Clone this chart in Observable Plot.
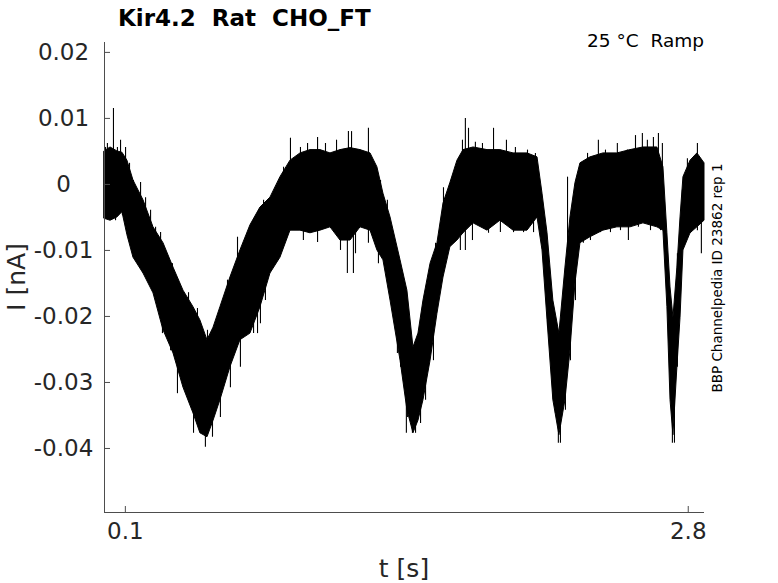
<!DOCTYPE html>
<html>
<head>
<meta charset="utf-8">
<script src="https://cdn.jsdelivr.net/npm/d3@7"></script>
<script src="https://cdn.jsdelivr.net/npm/@observablehq/plot@0.6"></script>
<style>
  html, body { margin: 0; padding: 0; background: #fff; }
  svg text { white-space: pre; }
</style>
</head>
<body>
<div id="chart"></div>
<script>
const envT = [0.000,0.029,0.062,0.086,0.110,0.139,0.187,0.235,0.283,0.331,0.379,0.427,0.460,0.494,0.523,0.556,0.604,0.652,0.700,0.748,0.796,0.844,0.892,0.940,0.988,1.036,1.084,1.132,1.180,1.228,1.276,1.309,1.338,1.372,1.420,1.453,1.482,1.506,1.530,1.564,1.597,1.626,1.659,1.693,1.722,1.770,1.837,1.899,1.962,2.029,2.077,2.101,2.125,2.153,2.182,2.211,2.235,2.259,2.283,2.331,2.393,2.460,2.523,2.585,2.652,2.681,2.700,2.715,2.729,2.748,2.763,2.777,2.811,2.844,2.878];
const envTop = [0.0050,0.0056,0.0050,0.0048,0.0036,0.0006,-0.0024,-0.0065,-0.0089,-0.0126,-0.0161,-0.0186,-0.0206,-0.0236,-0.0217,-0.0186,-0.0141,-0.0100,-0.0062,-0.0035,-0.0020,0.0011,0.0036,0.0047,0.0052,0.0052,0.0047,0.0052,0.0055,0.0052,0.0047,0.0026,-0.0014,-0.0050,-0.0115,-0.0161,-0.0247,-0.0226,-0.0176,-0.0120,-0.0089,-0.0029,0.0002,0.0036,0.0052,0.0056,0.0052,0.0052,0.0047,0.0047,0.0041,-0.0014,-0.0074,-0.0176,-0.0226,-0.0126,-0.0050,0.0002,0.0032,0.0041,0.0047,0.0047,0.0052,0.0056,0.0056,0.0026,-0.0074,-0.0156,-0.0202,-0.0126,-0.0050,0.0011,0.0036,0.0047,0.0032];
const envBottom = [-0.0052,-0.0055,-0.0050,-0.0042,-0.0077,-0.0111,-0.0135,-0.0165,-0.0221,-0.0256,-0.0308,-0.0347,-0.0377,-0.0383,-0.0358,-0.0327,-0.0277,-0.0236,-0.0226,-0.0186,-0.0135,-0.0111,-0.0070,-0.0070,-0.0074,-0.0070,-0.0065,-0.0085,-0.0085,-0.0065,-0.0070,-0.0100,-0.0115,-0.0176,-0.0267,-0.0342,-0.0377,-0.0358,-0.0327,-0.0267,-0.0196,-0.0141,-0.0095,-0.0085,-0.0074,-0.0059,-0.0070,-0.0055,-0.0070,-0.0070,-0.0050,-0.0100,-0.0206,-0.0327,-0.0380,-0.0327,-0.0252,-0.0150,-0.0089,-0.0080,-0.0070,-0.0065,-0.0065,-0.0059,-0.0065,-0.0070,-0.0186,-0.0327,-0.0380,-0.0277,-0.0202,-0.0100,-0.0074,-0.0065,-0.0055];

// Individual noise spikes sticking out of the dense band (time, extreme value)
const spikeT = [0.005,0.014,0.043,0.062,0.077,0.101,0.120,0.139,0.173,0.197,0.221,0.245,0.269,0.302,0.326,0.365,0.403,0.446,0.494,0.537,0.556,0.590,0.619,0.638,0.662,0.686,0.710,0.724,0.743,
  0.014,0.053,0.086,0.125,0.149,0.187,0.211,0.235,0.278,0.302,0.317,0.350,0.393,0.427,0.460,0.484,0.518,0.556,0.604,0.652,0.691,0.734,
  0.763,0.796,0.820,0.859,0.715,0.748,0.772,0.796,0.830,0.859,
  0.892,0.940,0.974,1.022,1.060,1.113,1.170,1.185,1.266,0.954,1.022,1.132,1.165,1.194,1.204,1.266,
  1.324,1.357,1.314,1.357,1.400,1.405,1.448,1.420,1.453,1.477,1.492,1.516,1.540,1.578,1.516,1.564,1.588,1.626,1.659,1.683,
  1.717,1.731,1.746,1.779,1.813,1.866,1.928,1.971,2.029,2.067,1.707,1.731,1.765,1.842,1.899,1.962,2.010,2.058,
  2.106,2.130,2.158,2.125,2.153,2.177,2.221,2.187,2.163,2.211,2.235,2.259,2.273,2.293,2.317,
  2.369,2.403,2.460,2.508,2.547,2.580,2.604,2.633,2.657,2.676,2.297,2.331,2.379,2.427,2.475,2.513,2.561,2.619,2.667,
  2.705,2.724,2.734,2.748,2.748,2.772,2.796,2.844,2.863,2.777,2.811,2.844,2.863];
const spikeV = [0.0056,0.0062,0.0115,0.0056,0.0067,0.0056,0.0032,0.0006,0.0003,-0.0020,-0.0039,-0.0065,-0.0073,-0.0115,-0.0120,-0.0164,-0.0164,-0.0188,-0.0221,-0.0232,-0.0191,-0.0145,-0.0135,-0.0080,-0.0097,-0.0085,-0.0059,-0.0050,-0.0039,
  -0.0050,-0.0055,-0.0047,-0.0089,-0.0111,-0.0135,-0.0148,-0.0165,-0.0226,-0.0221,-0.0252,-0.0317,-0.0308,-0.0377,-0.0377,-0.0398,-0.0383,-0.0353,-0.0308,-0.0277,-0.0226,-0.0226,
  -0.0024,-0.0020,-0.0005,0.0026,-0.0226,-0.0211,-0.0176,-0.0115,-0.0115,-0.0089,
  0.0070,0.0056,0.0062,0.0071,0.0062,0.0067,0.0080,0.0080,0.0085,-0.0085,-0.0088,-0.0100,-0.0135,-0.0135,-0.0105,-0.0089,
  0.0006,-0.0024,-0.0120,-0.0135,-0.0176,-0.0256,-0.0377,-0.0277,-0.0353,-0.0377,-0.0377,-0.0362,-0.0327,-0.0267,-0.0226,-0.0176,-0.0089,-0.0005,0.0002,0.0026,
  0.0067,0.0100,0.0085,0.0064,0.0062,0.0085,0.0067,0.0056,0.0052,0.0047,-0.0100,-0.0100,-0.0085,-0.0074,-0.0073,-0.0073,-0.0073,-0.0073,
  -0.0074,-0.0156,-0.0226,-0.0217,-0.0327,-0.0392,0.0011,-0.0392,-0.0347,-0.0342,-0.0267,-0.0176,-0.0089,0.0032,0.0047,
  0.0067,0.0052,0.0062,0.0052,0.0074,0.0077,0.0067,0.0071,0.0077,0.0062,-0.0089,-0.0085,-0.0073,-0.0073,-0.0070,-0.0085,-0.0065,-0.0070,-0.0070,
  -0.0186,-0.0392,-0.0392,-0.0277,-0.0105,-0.0009,0.0039,0.0062,0.0036,-0.0089,-0.0074,-0.0070,-0.0105];

const xTicks = [0.1, 2.8];
const xTickLabels = ["0.1", "2.8"];
const yTicks = [0.02, 0.01, 0, -0.01, -0.02, -0.03, -0.04];
const yTickLabels = ["0.02", "0.01", "0", "-0.01", "-0.02", "-0.03", "-0.04"];
const xDomain = [0, 2.878];
const yDomain = [-0.0497, 0.0215];

const title = "Kir4.2  Rat  CHO_FT";
const cornerNote = "25 °C  Ramp";
const sideNote = "BBP Channelpedia ID 23862 rep 1";
const xLabel = "t [s]";
const yLabel = "I [nA]";

const envelope = envT.map((t, i) => ({t, top: envTop[i], bottom: envBottom[i]}));
const midAt = t => {
  let i = d3.bisectRight(envT, t) - 1;
  i = Math.max(0, Math.min(envT.length - 2, i));
  const f = (t - envT[i]) / (envT[i + 1] - envT[i]);
  const m0 = (envTop[i] + envBottom[i]) / 2, m1 = (envTop[i + 1] + envBottom[i + 1]) / 2;
  return m0 + f * (m1 - m0);
};
const spikes = spikeT.map((t, i) => ({t, v: spikeV[i], base: midAt(t)}));

const textColor = "#262626";
const axisColor = "#4d4d4d";

const W = 778, H = 583;
const chart = Plot.plot({
  width: W,
  height: H,
  marginLeft: 104,
  marginRight: 74,
  marginTop: 42,
  marginBottom: 71,
  style: {fontFamily: "DejaVu Sans", background: "#fff", color: textColor},
  x: {domain: xDomain},
  y: {domain: yDomain},
  marks: [
    Plot.areaY(envelope, {x: "t", y1: "bottom", y2: "top", fill: "#000", stroke: "#000", strokeWidth: 1}),
    Plot.ruleX(spikes, {x: "t", y1: "base", y2: "v", stroke: "#000", strokeWidth: 1.1}),
    Plot.ruleX([xDomain[0]], {stroke: axisColor, strokeWidth: 1}),
    Plot.ruleY([yDomain[0]], {stroke: axisColor, strokeWidth: 1}),
    Plot.axisX({ticks: xTicks, tickFormat: (d, i) => xTickLabels[i], tickSize: -6, tickPadding: 16, stroke: axisColor, fill: textColor, fontSize: 23, label: null}),
    Plot.axisY({ticks: yTicks, tickFormat: (d, i) => yTickLabels[i], tickSize: -6, tickPadding: 47, textAnchor: "middle", stroke: axisColor, fill: textColor, fontSize: 23, label: null})
  ]
});
document.getElementById("chart").appendChild(chart);

const svg = d3.select(chart);
svg.append("text").attr("x", 118).attr("y", 26).attr("text-anchor", "start").attr("font-family", "DejaVu Sans").attr("font-weight", "bold")
  .attr("font-size", 23).attr("fill", "#000").text(title);
svg.append("text").attr("x", 704).attr("y", 47).attr("text-anchor", "end").attr("font-family", "DejaVu Sans")
  .attr("font-size", 18.5).attr("fill", "#000").text(cornerNote);
svg.append("text").attr("transform", "translate(722,278) rotate(-90)").attr("text-anchor", "middle")
  .attr("font-family", "DejaVu Sans").attr("font-size", 13.5).attr("fill", "#000").text(sideNote);
svg.append("text").attr("x", 404).attr("y", 577).attr("text-anchor", "middle").attr("font-family", "DejaVu Sans")
  .attr("font-size", 25).attr("fill", textColor).text(xLabel);
svg.append("text").attr("transform", "translate(25,277) rotate(-90)").attr("text-anchor", "middle")
  .attr("font-family", "DejaVu Sans").attr("font-size", 25).attr("fill", textColor).text(yLabel);
</script>
</body>
</html>
